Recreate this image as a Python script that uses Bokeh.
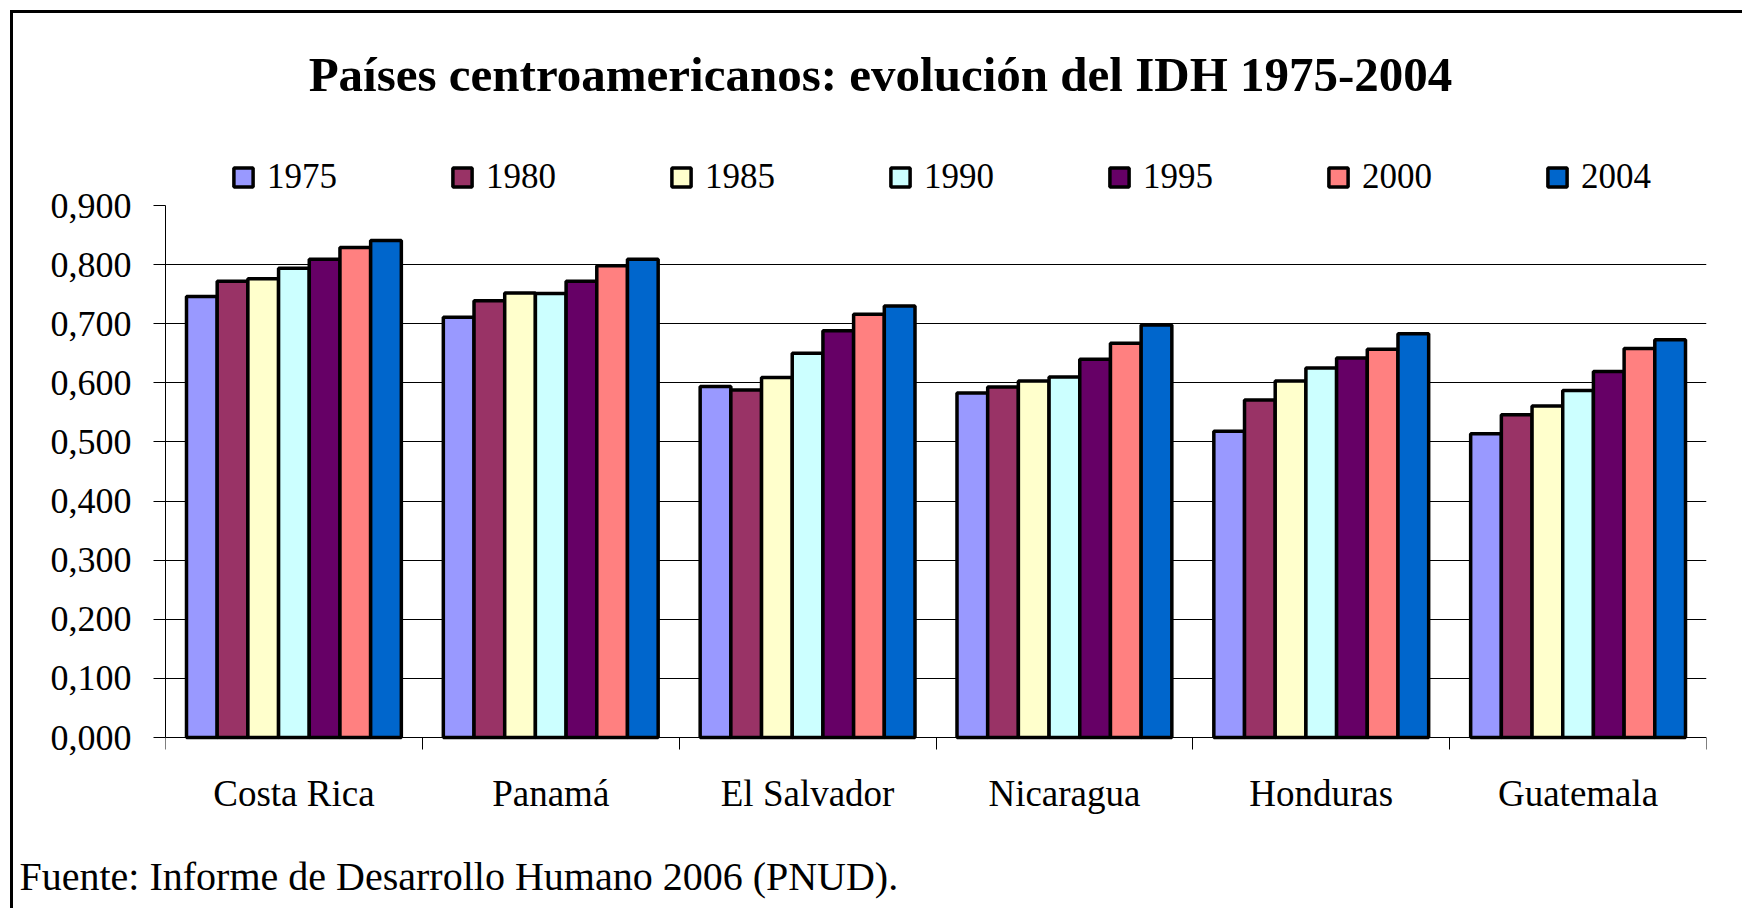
from bokeh.plotting import figure
from bokeh.models import (Label, FixedTicker, CustomJSTickFormatter, Title,
                          Range1d, ColumnDataSource)
from bokeh.transform import dodge
from bokeh.embed import file_html
from bokeh.resources import INLINE

countries = ["Costa Rica", "Panamá", "El Salvador", "Nicaragua", "Honduras", "Guatemala"]
years = ["1975", "1980", "1985", "1990", "1995", "2000", "2004"]
idh_1975 = [0.746, 0.711, 0.594, 0.583, 0.518, 0.514]
idh_1980 = [0.772, 0.739, 0.588, 0.593, 0.571, 0.546]
idh_1985 = [0.776, 0.752, 0.609, 0.603, 0.603, 0.561]
idh_1990 = [0.794, 0.751, 0.650, 0.610, 0.625, 0.587]
idh_1995 = [0.809, 0.772, 0.688, 0.640, 0.642, 0.619]
idh_2000 = [0.829, 0.798, 0.716, 0.667, 0.657, 0.658]
idh_2004 = [0.841, 0.809, 0.730, 0.698, 0.683, 0.673]
series = [idh_1975, idh_1980, idh_1985, idh_1990, idh_1995, idh_2000, idh_2004]
colors = ["#9999FF", "#993366", "#FFFFCC", "#CCFFFF", "#660066", "#FF8080", "#0066CC"]
y_ticks = [0.0, 0.1, 0.2, 0.3, 0.4, 0.5, 0.6, 0.7, 0.8, 0.9]
grid_ticks = [0.1, 0.2, 0.3, 0.4, 0.5, 0.6, 0.7, 0.8]

title_text = "Países centroamericanos: evolución del IDH 1975-2004"
source_text = "Fuente: Informe de Desarrollo Humano 2006 (PNUD)."

W, H = 1742, 908
FL, FR = 165, 1706           # frame left/right
Y09, Y00 = 205, 737          # pixel rows of 0.9 and 0.0
FT, FB = 0, 850              # frame top/bottom (frame extends below the 0 line)
ppu = (Y00 - Y09) / 0.9
y_top = 0.9 + (Y09 - FT) / ppu
y_bot = -(FB - Y00) / ppu

p = figure(width=W, height=H, output_backend="svg", toolbar_location=None,
           x_range=Range1d(0, 6), y_range=Range1d(y_bot, y_top),
           min_border_left=FL, min_border_right=W - FR,
           min_border_top=FT, min_border_bottom=H - FB,
           background_fill_alpha=0, border_fill_alpha=0,
           styles={"box-shadow": "inset 10px 10px 0 0 white, inset 13px 13px 0 0 black"})
p.outline_line_color = None

data = {"xc": [i + 0.5 for i in range(len(countries))]}
for y, s in zip(years, series):
    data["v" + y] = s
src = ColumnDataSource(data)

bw = 0.1195
for j, (y, c) in enumerate(zip(years, colors)):
    p.vbar(x=dodge("xc", (j - 3) * bw, range=p.x_range), top="v" + y, bottom=0, width=bw,
           source=src, fill_color=c, line_color="black", line_width=3.5,
           legend_label=y)

font = "Liberation Serif"
qfont = "'Liberation Serif', 'Times New Roman', serif"

# y axis
p.yaxis.ticker = FixedTicker(ticks=y_ticks)
p.yaxis.bounds = (0, 0.9)
p.yaxis.formatter = CustomJSTickFormatter(code="return tick.toFixed(3).replace('.', ',');")
p.yaxis.major_label_text_font = font
p.yaxis.major_label_text_font_size = "36px"
p.yaxis.major_label_text_color = "black"
p.yaxis.major_tick_out = 12
p.yaxis.major_tick_in = 0
p.yaxis.minor_tick_line_color = None
p.yaxis.axis_line_color = "black"
p.yaxis.major_tick_line_color = "black"
p.yaxis.major_label_standoff = 22

# x axis, drawn at value 0 inside the frame
p.xaxis.fixed_location = 0
p.xaxis.ticker = FixedTicker(ticks=data["xc"], minor_ticks=list(range(len(countries) + 1)))
p.xaxis.formatter = CustomJSTickFormatter(args=dict(names=countries),
                                          code="return names[Math.floor(tick)];")
p.xaxis.major_tick_line_color = None
p.xaxis.major_tick_out = 0
p.xaxis.major_tick_in = 0
p.xaxis.minor_tick_out = 12
p.xaxis.minor_tick_in = 0
p.xaxis.minor_tick_line_color = "black"
p.xaxis.axis_line_color = "black"
p.xaxis.major_label_text_font = font
p.xaxis.major_label_text_font_size = "37px"
p.xaxis.major_label_text_color = "black"
p.xaxis.major_label_standoff = 23

p.xgrid.grid_line_color = None
p.ygrid.ticker = FixedTicker(ticks=grid_ticks)
p.ygrid.grid_line_color = "black"
p.ygrid.grid_line_width = 1

# legend (inside the extended frame, above the 0.9 line)
lg = p.legend[0]
lg.orientation = "horizontal"
lg.location = (231 - FL, FB - 196.5)
lg.padding = 0
lg.margin = 0
lg.spacing = 0
lg.border_line_color = None
lg.background_fill_alpha = 0
lg.glyph_width = 24
lg.glyph_height = 24
lg.label_standoff = 12
lg.label_width = 183
lg.label_height = 24
lg.label_text_font = qfont
lg.label_text_font_size = "35px"
lg.label_text_color = "black"

# title
p.add_layout(Label(x=880 - FL, y=FB - 74, x_units="screen", y_units="screen",
                   text=title_text, text_font=qfont, text_font_size="49px",
                   text_font_style="bold", text_align="center",
                   text_baseline="alphabetic", text_color="black"))

# source note below the chart
foot = Title(text=source_text, align="left", offset=19 - FL, standoff=2,
             text_font=font, text_font_size="40px", text_font_style="normal",
             text_color="black")
p.add_layout(foot, "below")

open("out.html", "w").write(file_html(p, INLINE))
